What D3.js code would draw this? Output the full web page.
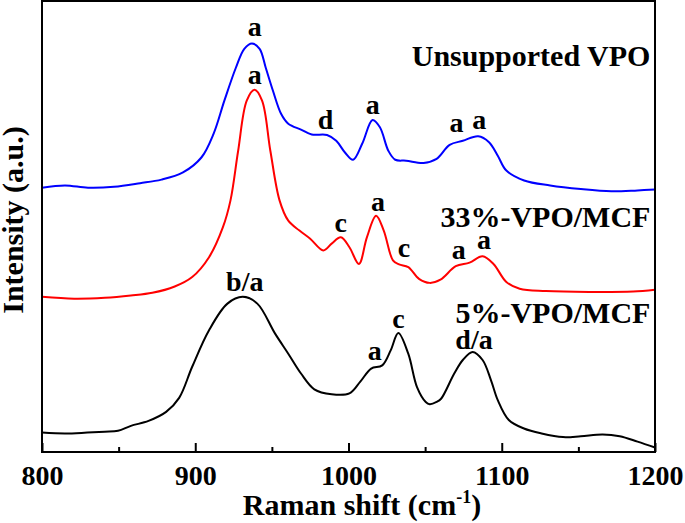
<!DOCTYPE html>
<html>
<head>
<meta charset="utf-8">
<script src="https://cdn.jsdelivr.net/npm/d3@7"></script>
<style>
  body { margin: 0; background: #fff; }
</style>
</head>
<body>
<script>
// Raman spectra, [wavenumber (cm-1), intensity (a.u.)]
var unsupported = [
  [800,58.6],[815,59.1],[830,58.6],[847,58.8],[864,59.6],[878,60.4],[892,62.0],[904,65.3],
  [912,70.6],[919,77.9],[926.5,85.2],[932,89.4],[937,90.6],[942,89.4],[946,85.2],[950.7,80.1],
  [956,75.0],[960.7,72.8],[969,71.5],[976,70.4],[986,70.3],[992,69.0],[997.7,66.4],[1003,64.8],
  [1009,68.4],[1015.7,73.6],[1020.5,72.0],[1026,66.8],[1030.5,64.8],[1037.6,64.6],[1049,64.1],
  [1057.5,65.0],[1066,68.1],[1074.6,69.0],[1084.6,70.0],[1091.7,68.7],[1097.4,65.7],[1103,62.4],
  [1114.6,60.2],[1131.6,59.1],[1151.6,58.3],[1171.5,57.8],[1188.6,58.0],[1200,58.2]
];
var vpo33 = [
  [800,34.4],[821,34.0],[841,34.2],[858,34.7],[872,35.3],[886.6,36.7],[898,38.8],[909,43.2],
  [918,49.8],[923,55.8],[928,66.8],[933.6,77.9],[938.7,80.3],[943.6,77.9],[949,66.8],[955,55.8],
  [960.7,51.3],[968,49.1],[975,47.3],[983.6,44.7],[989,46.2],[995,47.6],[1000.6,45.4],[1006.8,41.7],
  [1012,47.6],[1018,52.4],[1023,49.1],[1029,42.5],[1033,41.6],[1039,41.0],[1046,38.4],[1053,37.5],
  [1060,38.2],[1070,41.2],[1079,42.0],[1087.5,43.4],[1094.6,41.7],[1103,37.7],[1111.7,36.2],
  [1128.8,35.7],[1157,35.5],[1185.7,35.6],[1200,36.0]
];
var vpo5 = [
  [800,4.3],[815,4.1],[829.6,4.3],[841,4.5],[849.6,4.7],[858,5.8],[869.5,6.9],[881,8.9],
  [889.5,12.0],[898,18.9],[909,27.0],[921,32.9],[931,34.4],[940.5,32.9],[952,26.3],[960.7,21.8],
  [969,17.4],[977.7,13.9],[989,12.8],[1000.6,13.0],[1007.7,15.6],[1014.8,18.5],[1022,19.2],
  [1027.6,22.6],[1032.5,26.4],[1039,21.8],[1044.7,14.4],[1050.4,11.1],[1053,10.6],[1057.5,11.1],
  [1060.4,11.8],[1069,17.4],[1074.6,20.4],[1081,22.2],[1087.5,20.4],[1093,15.9],[1097.4,11.5],
  [1104.6,7.1],[1114.5,5.2],[1126,4.1],[1140,3.3],[1151.6,3.5],[1165.8,3.9],[1177,3.5],
  [1188.6,2.3],[1200,1.0]
];

var seriesNames = ["Unsupported VPO", "33%-VPO/MCF", "5%-VPO/MCF"];
var seriesColors = ["#0000ff", "#ff0000", "#000000"];
var nameLevels = [85.6, 49.8, 28.6];

// peak assignments: label, wavenumber, intensity
var peakLabels = [
  ["a", 938.8, 92.3], ["d", 985, 71.7], ["a", 1015.8, 75.0], ["a", 1070.5, 70.9], ["a", 1085.3, 71.7],
  ["a", 938.8, 81.6], ["c", 995, 48.7], ["a", 1019.2, 53.5], ["c", 1036.2, 43.2], ["a", 1071.9, 42.9], ["a", 1088.4, 45.1],
  ["b/a", 932.3, 35.8], ["a", 1017.2, 20.5], ["c", 1032.6, 27.5], ["d/a", 1081.9, 22.9]
];

var xMajor = [800, 900, 1000, 1100, 1200];
var xMinor = [850, 950, 1050, 1150];

var serif = "'Liberation Serif', 'Times New Roman', Times, serif";

var margin = {top: 1, right: 30, bottom: 71, left: 42},
    width = 685 - margin.left - margin.right,
    height = 523 - margin.top - margin.bottom;

var svg = d3.select("body").append("svg")
    .attr("width", 685)
    .attr("height", 523)
  .append("g")
    .attr("transform", "translate(" + margin.left + "," + margin.top + ")");

var x = d3.scaleLinear().domain([800, 1200]).range([0, width]);
var y = d3.scaleLinear().domain([0, 100]).range([height, 0]);

var line = d3.line()
    .x(function(d) { return x(d[0]); })
    .y(function(d) { return y(d[1]); })
    .curve(d3.curveCatmullRom.alpha(0.5));

[unsupported, vpo33, vpo5].forEach(function(s, i) {
  svg.append("path")
      .datum(s)
      .attr("d", line)
      .attr("fill", "none")
      .attr("stroke", seriesColors[i])
      .attr("stroke-width", 2);
});

// frame
svg.append("rect")
    .attr("width", width)
    .attr("height", height)
    .attr("fill", "none")
    .attr("stroke", "#000")
    .attr("stroke-width", 2);

// minor ticks
svg.append("g")
    .attr("transform", "translate(0," + height + ")")
    .call(d3.axisBottom(x).tickValues(xMinor).tickSize(-5).tickFormat(""))
    .call(function(g) { g.select(".domain").remove(); })
    .selectAll("line").attr("stroke-width", 2);

// major ticks
var xAxis = svg.append("g")
    .attr("transform", "translate(0," + height + ")")
    .call(d3.axisBottom(x).tickValues(xMajor).tickSize(-9).tickPadding(0).tickFormat(d3.format("d")));
xAxis.select(".domain").remove();
xAxis.selectAll("line").attr("stroke-width", 2);
xAxis.selectAll("text")
    .attr("y", 33)
    .attr("dy", null)
    .attr("fill", "#000")
    .style("font-size", "28px")
    .style("font-family", serif)
    .style("font-weight", "bold");

function label(sel, size) {
  return sel.style("font-family", serif)
      .style("font-weight", "bold")
      .style("font-size", size + "px")
      .attr("fill", "#000");
}

// axis titles
var xt = svg.append("text")
    .attr("x", 320)
    .attr("y", height + 63)
    .attr("text-anchor", "middle")
    .call(label, 30);
xt.append("tspan").text("Raman shift (cm");
xt.append("tspan").text("-1").style("font-size", "18px").attr("dy", -12);
xt.append("tspan").text(")").attr("dy", 12);

svg.append("text")
    .attr("transform", "translate(" + (23 - margin.left) + "," + 219 + ") rotate(-90)")
    .attr("text-anchor", "middle")
    .call(label, 30)
    .text("Intensity (a.u.)");

// sample names
seriesNames.forEach(function(n, i) {
  svg.append("text")
      .attr("x", x(1197))
      .attr("y", y(nameLevels[i]))
      .attr("text-anchor", "end")
      .call(label, 30)
      .text(n);
});

// peak assignments
svg.selectAll(".peak")
    .data(peakLabels)
  .enter().append("text")
    .attr("class", "peak")
    .attr("x", function(d) { return x(d[1]); })
    .attr("y", function(d) { return y(d[2]); })
    .attr("text-anchor", "middle")
    .call(label, 28)
    .text(function(d) { return d[0]; });
</script>
</body>
</html>
